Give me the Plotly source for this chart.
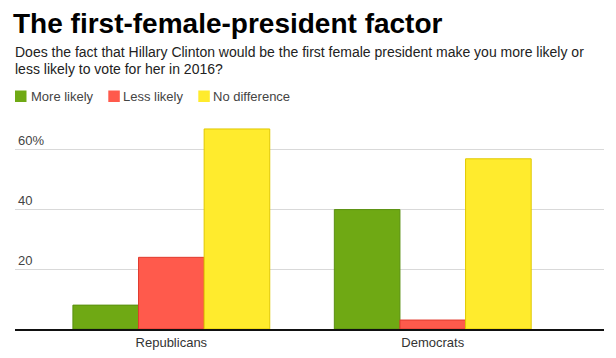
import plotly.graph_objects as go

categories = ["Republicans", "Democrats"]
more_likely = [8, 40]
less_likely = [24, 3]
no_difference = [67, 57]
series_names = ["More likely", "Less likely", "No difference"]
y_tick_vals = [20, 40, 60]
y_tick_text = ["20", "40", "60%"]
subtitle_lines = [
    "Does the fact that Hillary Clinton would be the first female president make you more likely or",
    "less likely to vote for her in 2016?",
]

fills = ["#6fa914", "#ff5a4c", "#ffeb2d"]
edges = ["#5a9010", "#e03a2e", "#e0c800"]

FONT = "Liberation Sans, Arial, sans-serif"

fig = go.Figure()
for name, vals, fill, edge in zip(series_names, [more_likely, less_likely, no_difference], fills, edges):
    fig.add_bar(x=categories, y=vals, name=name, showlegend=False,
                marker=dict(color=fill, line=dict(color=edge, width=1)))

W, H = 616, 358
L, R, T, B = 15, 12, 120, 29
pw, ph = W - L - R, H - T - B


def px_x(px):
    return (px - L) / pw


def px_y(py):
    return (H - B - py) / ph


annotations = []
for i, line in enumerate(subtitle_lines):
    annotations.append(dict(
        text=line, x=px_x(13), y=px_y(51.5 + 17.5 * i), xref="paper", yref="paper",
        xanchor="left", yanchor="middle", align="left", showarrow=False,
        font=dict(family=FONT, size=14, color="#222")))

# legend (swatches + labels)
legend_swatch_x = [15, 108.3, 198.3]
legend_text_x = [30.7, 123.3, 213.3]
shapes = []
for name, fill, sx, tx in zip(series_names, fills, legend_swatch_x, legend_text_x):
    shapes.append(dict(type="rect", xref="paper", yref="paper",
                       x0=px_x(sx), x1=px_x(sx + 11.5), y0=px_y(102), y1=px_y(90.5),
                       fillcolor=fill, line=dict(width=0)))
    annotations.append(dict(
        text=name, x=px_x(tx - 2), y=px_y(96.5), xref="paper", yref="paper",
        xanchor="left", yanchor="middle", showarrow=False,
        font=dict(family=FONT, size=13, color="#444")))

fig.update_layout(
    width=W, height=H,
    margin=dict(l=L, r=R, t=T, b=B, pad=0),
    paper_bgcolor="white", plot_bgcolor="white",
    barmode="group", bargap=0.247, bargroupgap=0,
    showlegend=False,
    title=dict(text="<b>The first-female-president factor</b>",
               font=dict(family=FONT, size=28, color="#000"),
               x=13 / W, xref="container", xanchor="left",
               y=1 - 13 / H, yref="container", yanchor="top"),
    xaxis=dict(type="category", range=[-0.598, 1.655], showline=True,
               linecolor="#111", linewidth=2, ticks="", showgrid=False,
               automargin=False,
               tickfont=dict(family=FONT, size=13, color="#333")),
    yaxis=dict(range=[0, 70], tickvals=y_tick_vals, ticktext=y_tick_text,
               showgrid=True, gridcolor="#d9d9d9", gridwidth=1,
               zeroline=False, showline=False, ticks="", automargin=False,
               ticklabelposition="inside top",
               tickfont=dict(family=FONT, size=13, color="#444")),
    shapes=shapes,
    annotations=annotations,
)

fig.write_html("out.html", config={"displayModeBar": False},
               post_script="document.body.style.margin='0px';document.body.style.overflow='hidden';")
